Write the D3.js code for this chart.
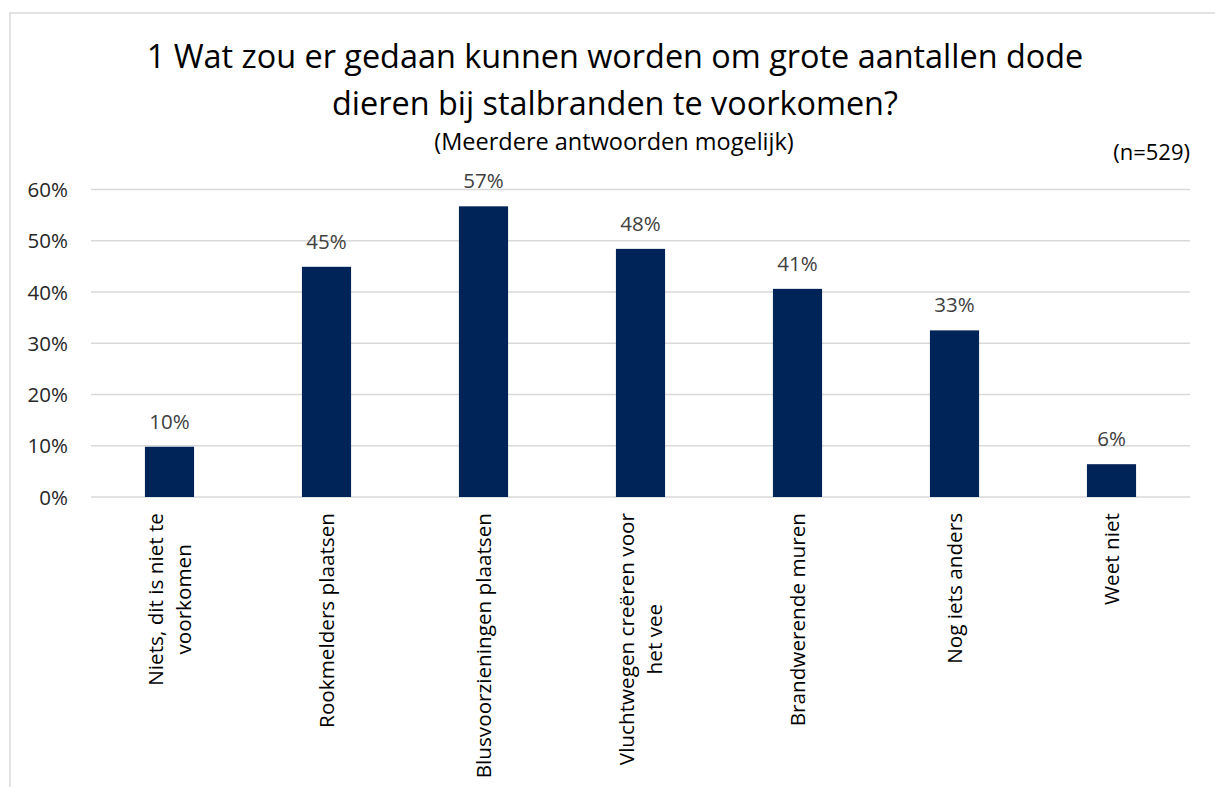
<!DOCTYPE html>
<html>
<head>
<meta charset="utf-8">
<script src="https://cdn.jsdelivr.net/npm/d3@7"></script>
<style>
  html, body { margin: 0; padding: 0; background: #fff; }
  svg { display: block; font-family: "Open Sans", sans-serif; }
</style>
</head>
<body>
<svg id="chart" width="1215" height="787"></svg>
<script>
const categories = [
  ["Niets, dit is niet te", "voorkomen"],
  ["Rookmelders plaatsen"],
  ["Blusvoorzieningen plaatsen"],
  ["Vluchtwegen creëren voor", "het vee"],
  ["Brandwerende muren"],
  ["Nog iets anders"],
  ["Weet niet"]
];
const values = [0.098, 0.449, 0.567, 0.484, 0.406, 0.325, 0.064];
const valueLabels = ["10%", "45%", "57%", "48%", "41%", "33%", "6%"];
const yTicks = [0, 0.1, 0.2, 0.3, 0.4, 0.5, 0.6];
const titleLines = ["1 Wat zou er gedaan kunnen worden om grote aantallen dode", "dieren bij stalbranden te voorkomen?"];
const subtitle = "(Meerdere antwoorden mogelijk)";
const nLabel = "(n=529)";

const svg = d3.select("#chart");
const W = 1215, H = 787;

// outer border
svg.append("rect").attr("x", 10).attr("y", 13).attr("width", W + 20).attr("height", H + 20)
  .attr("fill", "#fff").attr("stroke", "#d9d9d9").attr("stroke-width", 1.5);

const x = d3.scaleBand().domain(d3.range(categories.length)).range([91, 1190]).padding(0);
const y = d3.scaleLinear().domain([0, 0.6]).range([497, 189.4]);

// gridlines
svg.append("g").selectAll("line").data(yTicks).join("line")
  .attr("x1", 91).attr("x2", 1190)
  .attr("y1", d => y(d)).attr("y2", d => y(d))
  .attr("stroke", "#d9d9d9").attr("stroke-width", 1.5);

// y axis labels
const yAxis = d3.axisLeft(y).tickValues(yTicks).tickFormat(d3.format(".0%")).tickSize(0).tickPadding(0);
const gy = svg.append("g").attr("transform", "translate(68,0)").call(yAxis);
gy.select(".domain").remove();
gy.selectAll("text").attr("font-size", 20.5).attr("fill", "#262626").attr("font-family", "Open Sans, sans-serif").attr("dy", "0.35em");

// bars
const barW = x.bandwidth() * 0.313;
svg.append("g").selectAll("rect").data(values).join("rect")
  .attr("x", (d, i) => x(i) + x.bandwidth() / 2 - barW / 2)
  .attr("y", d => y(d))
  .attr("width", barW)
  .attr("height", d => y(0) - y(d))
  .attr("fill", "#002358");

// value labels
svg.append("g").selectAll("text").data(values).join("text")
  .attr("x", (d, i) => x(i) + x.bandwidth() / 2)
  .attr("y", d => y(d) - 18)
  .attr("text-anchor", "middle")
  .attr("font-size", 20.5).attr("fill", "#404040")
  .text((d, i) => valueLabels[i]);

// category labels (block top aligned at y=513, lines centered within block)
const cat = svg.append("g").selectAll("text").data(categories).join("text")
  .attr("transform", (d, i) => `translate(${x(i) + x.bandwidth() / 2},513) rotate(-90)`)
  .attr("text-anchor", "middle")
  .attr("font-size", 20.7).attr("fill", "#000");
cat.each(function(lines) {
  const t = d3.select(this);
  const n = lines.length;
  const spans = lines.map((l, k) => {
    const off = (k - (n - 1) / 2) * 28;
    return t.append("tspan").attr("y", off).attr("dy", "0.35em").text(l);
  });
  const maxLen = d3.max(spans, s => s.node().getComputedTextLength());
  spans.forEach(s => s.attr("x", -maxLen / 2));
});

// title
svg.append("g").selectAll("text").data(titleLines).join("text")
  .attr("x", 615).attr("y", (d, i) => 68 + i * 47)
  .attr("text-anchor", "middle").attr("font-size", 32.4).attr("fill", "#000")
  .text(d => d);
svg.append("text").attr("x", 614).attr("y", 150).attr("text-anchor", "middle")
  .attr("font-size", 23.5).attr("fill", "#000").text(subtitle);
svg.append("text").attr("x", 1190).attr("y", 160).attr("text-anchor", "end")
  .attr("font-size", 22).attr("fill", "#000").text(nLabel);
</script>
</body>
</html>
